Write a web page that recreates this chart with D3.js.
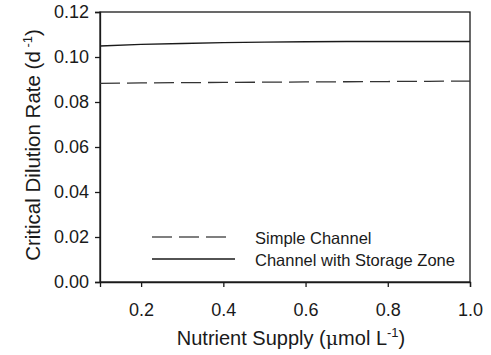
<!DOCTYPE html>
<html>
<head>
<meta charset="utf-8">
<script src="https://cdn.jsdelivr.net/npm/d3@7"></script>
<style>
  body { margin: 0; background: white; }
  text { font-family: "Liberation Sans", Arial, sans-serif; fill: #1a1a1a; }
</style>
</head>
<body>
<div id="chart"></div>
<script>
const supply = [0.1, 0.2, 0.3, 0.4, 0.5, 0.6, 0.7, 0.8, 0.9, 1.0];
const simpleChannel = [0.0883, 0.0885, 0.0886, 0.0887, 0.0888, 0.0889, 0.0890, 0.0891, 0.0892, 0.0893];
const storageZone = [0.1049, 0.1056, 0.1060, 0.1064, 0.1066, 0.1068, 0.1069, 0.1069, 0.1069, 0.1069];
const xTicks = [0.2, 0.4, 0.6, 0.8, 1.0];
const yTicks = [0.00, 0.02, 0.04, 0.06, 0.08, 0.10, 0.12];
const legendLabels = ["Simple Channel", "Channel with Storage Zone"];

const width = 491, height = 355;
const margin = {left: 100, top: 12, right: 21, bottom: 73};
const innerW = width - margin.left - margin.right;
const innerH = height - margin.top - margin.bottom;

const svg = d3.select("#chart").append("svg")
  .attr("width", width)
  .attr("height", height);

const g = svg.append("g")
  .attr("transform", "translate(" + margin.left + "," + margin.top + ")");

const x = d3.scaleLinear().domain([0.1, 1.0]).range([0, innerW]);
const y = d3.scaleLinear().domain([0, 0.12]).range([innerH, 0]);

// frame
g.append("rect")
  .attr("width", innerW)
  .attr("height", innerH)
  .attr("fill", "none")
  .attr("stroke", "#1a1a1a")
  .attr("stroke-width", 1.3);

const xAxis = g.append("g")
  .attr("transform", "translate(0," + innerH + ")")
  .call(d3.axisBottom(x).tickValues(xTicks).tickFormat(d3.format(".1f")).tickSize(5).tickPadding(16));
const yAxis = g.append("g")
  .call(d3.axisLeft(y).tickValues(yTicks).tickFormat(d3.format(".2f")).tickSize(5).tickPadding(6));

[xAxis, yAxis].forEach(ax => {
  ax.select(".domain").attr("stroke", "#1a1a1a").attr("stroke-width", 1.3);
  ax.selectAll(".tick line").attr("stroke", "#1a1a1a").attr("stroke-width", 1.3);
  ax.selectAll(".tick text")
    .style("font-family", "Liberation Sans, Arial, sans-serif")
    .style("font-size", "18px")
    .attr("fill", "#1a1a1a");
});

const line = d3.line()
  .x(d => x(d[0]))
  .y(d => y(d[1]));

g.append("path")
  .datum(supply.map((s, i) => [s, simpleChannel[i]]))
  .attr("d", line)
  .attr("fill", "none")
  .attr("stroke", "#333")
  .attr("stroke-width", 1.3)
  .style("stroke-dasharray", "20,7");

g.append("path")
  .datum(supply.map((s, i) => [s, storageZone[i]]))
  .attr("d", line)
  .attr("fill", "none")
  .attr("stroke", "#1a1a1a")
  .attr("stroke-width", 1.4);

// legend
const legend = g.append("g").attr("transform", "translate(52,225)");
legend.append("line")
  .attr("x1", 0).attr("x2", 76).attr("y1", 0).attr("y2", 0)
  .attr("stroke", "#555").attr("stroke-width", 1.3)
  .style("stroke-dasharray", "20,7");
legend.append("line")
  .attr("x1", 0).attr("x2", 83).attr("y1", 22).attr("y2", 22)
  .attr("stroke", "#1a1a1a").attr("stroke-width", 1.3);
legend.selectAll(".legendText")
  .data(legendLabels)
  .enter().append("text")
  .attr("x", 103)
  .attr("y", (d, i) => i * 22 + 7)
  .style("font-size", "16.5px")
  .text(d => d);

// axis titles
const xTitle = svg.append("text")
  .attr("x", 291)
  .attr("y", 345)
  .attr("text-anchor", "middle")
  .style("font-size", "20px");
xTitle.append("tspan").text("Nutrient Supply (");
xTitle.append("tspan").style("font-family", "DejaVu Serif, serif").style("font-size", "19px").text("\u03bc");
xTitle.append("tspan").text("mol L");
xTitle.append("tspan").attr("dy", -8).style("font-size", "13px").text("-1");
xTitle.append("tspan").attr("dy", 8).text(")");

const yTitle = svg.append("text")
  .attr("transform", "translate(40,145) rotate(-90)")
  .attr("text-anchor", "middle")
  .style("font-size", "20.5px");
yTitle.append("tspan").text("Critical Dilution Rate (d");
yTitle.append("tspan").attr("dy", -8).style("font-size", "13px").text(" -1");
yTitle.append("tspan").attr("dy", 8).text(")");
</script>
</body>
</html>
